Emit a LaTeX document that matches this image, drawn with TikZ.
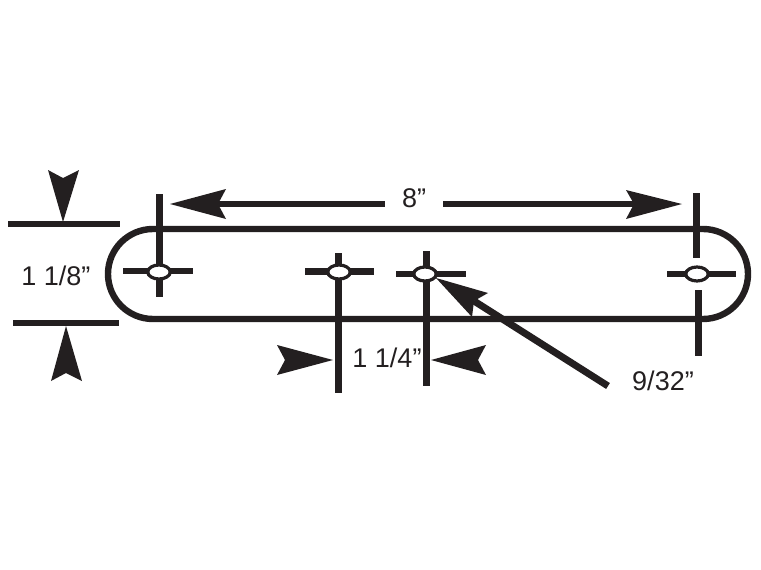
\documentclass[tikz,border=0pt]{standalone}
\usepackage{fontspec}
\setmainfont{Liberation Sans}
\definecolor{ink}{HTML}{231F20}
\usetikzlibrary{shapes.geometric}
\tikzset{
  thick line/.style={draw=ink,line width=6.5pt,line cap=butt},
  slot/.style={draw=ink,line width=6.4pt},
  head/.style={fill=ink,draw=none},
  hole/.style={draw=ink,fill=white,line width=3.2pt,ellipse,minimum width=22.5pt,minimum height=14pt,inner sep=0pt},
  dimtext/.style={text=ink,font=\fontsize{27}{30}\selectfont,inner sep=0pt}
}
\begin{document}
\begin{tikzpicture}[x=1pt,y=-1pt]
\useasboundingbox (0,0) rectangle (761,570);
% slotted plate
\draw[slot,rounded corners=45pt] (108,229) -- (748,229) -- (748,319) -- (108,319) -- cycle;
% witness lines
\draw[thick line] (8,224) -- (120,224);
\draw[thick line] (13,323) -- (119,323);
\draw[thick line,line width=7pt] (159.5,194) -- (159.5,297);
\draw[thick line] (123,271) -- (193,271);
\draw[thick line,line width=7pt] (338.5,253) -- (338.5,393);
\draw[thick line] (305,271.5) -- (374,271.5);
\draw[thick line,line width=7pt] (426,251) -- (426,386);
\draw[thick line] (396,274) -- (466,274);
\draw[thick line,line width=7pt] (696.5,193) -- (696.5,258);
\draw[thick line,line width=7pt] (698,290) -- (698,356);
\draw[thick line] (667,274) -- (736,274);
% holes
\node[hole] (h1) at (159,272) {};
\node[hole] (h2) at (339,272) {};
\node[hole] (h3) at (425,274) {};
\node[hole] (h4) at (697,274) {};
% text
\node[dimtext] (t8) at (414,198) {8”};
\node[dimtext] (t118) at (56,276) {1 1/8”};
\node[dimtext] (t114) at (387,358) {1 1/4”};
\node[dimtext] (t932) at (663,381) {9/32”};
% 8 inch arrows
\coordinate (a8l) at (218,204);
\coordinate (a8m1) at (385,204);
\coordinate (a8m2) at (443,204);
\coordinate (a8r) at (638,204);
\draw[thick line,line width=6pt] (a8l) -- (a8m1);
\draw[thick line,line width=6pt] (a8m2) -- (a8r);
\fill[head] (170,204) -- (226,189) -- (218,204) -- (226,219) -- cycle;
\fill[head] (682,204) -- (626,190) -- (634,204) -- (626,219) -- cycle;
% width arrows
\fill[head] (63,222) -- (48,170) -- (63,178) -- (79,170) -- cycle;
\fill[head] (66,326) -- (51,381) -- (66,373) -- (82,381) -- cycle;
% spacing arrows
\fill[head] (333,360) -- (277,345) -- (285,360) -- (277,375) -- cycle;
\fill[head] (431,360) -- (486,345) -- (478,360) -- (486,375) -- cycle;
% hole arrow
\coordinate (dtail) at (608,386);
\coordinate (dnotch) at (474,301);
\draw[thick line,line width=7pt] (dnotch) -- (dtail);
\fill[head] (436,278) -- (488,293) -- (474,301) -- (472,317) -- cycle;
\end{tikzpicture}
\end{document}
